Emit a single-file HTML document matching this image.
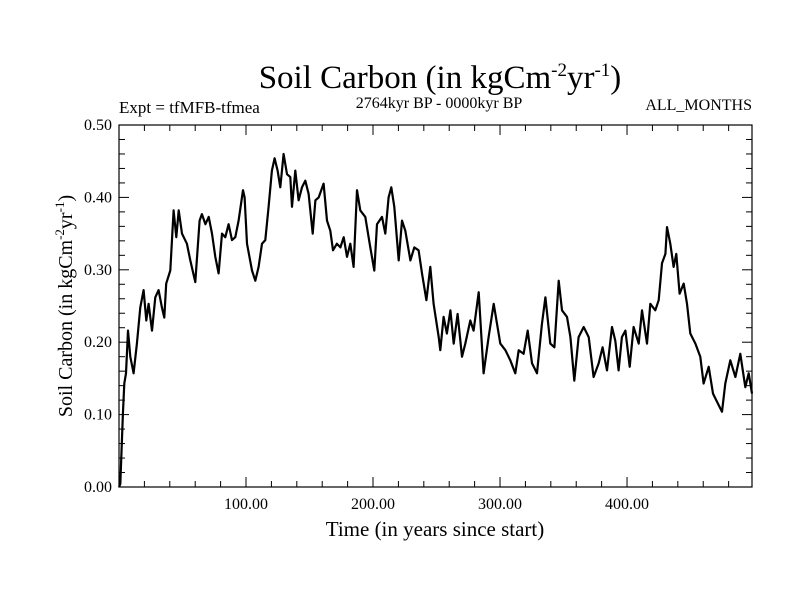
<!DOCTYPE html>
<html><head><meta charset="utf-8"><style>
html,body{margin:0;padding:0;background:#fff;}
svg{display:block;font-family:"Liberation Serif",serif;}
</style></head><body>
<svg id="chart" width="800" height="600" viewBox="0 0 800 600" xmlns="http://www.w3.org/2000/svg">
<rect width="800" height="600" fill="#fff"/>
<text x="440" y="88" font-size="33" text-anchor="middle">Soil Carbon (in kgCm<tspan dy="-12" font-size="19">-2</tspan><tspan dy="12">yr</tspan><tspan dy="-12" font-size="19">-1</tspan><tspan dy="12">)</tspan></text>
<text x="119" y="113" font-size="17">Expt = tfMFB-tfmea</text>
<text x="439" y="108" font-size="16" text-anchor="middle">2764kyr BP - 0000kyr BP</text>
<text x="752" y="110" font-size="16" text-anchor="end">ALL_MONTHS</text>
<g id="axes"></g>
<g id="marks"></g>
<text x="435" y="536" font-size="21" text-anchor="middle">Time (in years since start)</text>
<text transform="translate(72,306) rotate(-90)" font-size="20" text-anchor="middle">Soil Carbon (in kgCm<tspan dy="-8" font-size="13">-2</tspan><tspan dy="8">yr</tspan><tspan dy="-8" font-size="13">-1</tspan><tspan dy="8">)</tspan></text>
</svg>
<script>
const years = [0,1.0,3.1,4.2,5.5,7.1,8.9,11.5,14.1,16.8,19.4,21.5,23.3,26.0,28.6,31.2,33.8,35.7,37.2,40.4,43.0,45.1,47.0,49.6,53.5,56.1,60.1,63.5,65.3,68.0,70.6,73.2,75.8,78.4,81.1,83.7,86.3,89.0,91.6,94.2,97.6,98.9,100.8,104.7,107.3,109.9,112.6,115.2,117.8,120.4,122.5,124.9,127.0,129.6,132.3,134.9,136.2,138.8,141.4,144.1,146.7,149.3,152.5,154.6,157.2,161.1,163.8,166.4,168.5,171.6,174.3,176.9,179.5,182.1,184.7,187.4,190.0,193.9,197.9,201.0,203.1,207.1,209.7,212.3,214.4,216.8,220.2,222.8,225.4,229.4,232.5,235.9,238.6,242.0,245.1,247.7,251.7,253.0,255.6,258.2,260.9,263.5,266.6,270.1,272.7,276.6,279.2,283.2,287.1,291.0,295.0,300.2,304.2,308.1,312.0,314.7,318.6,321.8,325.2,329.1,333.0,335.7,339.6,342.8,346.2,348.8,352.7,355.4,358.5,361.9,365.9,369.8,373.7,377.7,380.8,384.2,388.2,390.8,393.4,396.0,398.7,402.1,405.2,409.2,411.8,415.7,418.3,422.3,424.9,427.5,430.2,431.5,434.1,436.7,438.8,441.4,444.6,447.2,449.8,453.8,457.7,460.3,464.3,467.7,471.6,474.8,477.4,481.3,485.3,489.2,493.1,495.8,498.4];
const carbon = [0,0.004,0.101,0.143,0.157,0.216,0.18,0.157,0.198,0.248,0.272,0.23,0.253,0.216,0.262,0.272,0.248,0.234,0.281,0.299,0.382,0.345,0.382,0.35,0.336,0.313,0.283,0.368,0.377,0.363,0.373,0.35,0.318,0.295,0.35,0.345,0.363,0.341,0.345,0.368,0.41,0.4,0.336,0.299,0.285,0.304,0.336,0.341,0.387,0.437,0.454,0.437,0.414,0.46,0.432,0.428,0.387,0.437,0.396,0.414,0.423,0.405,0.35,0.396,0.4,0.419,0.368,0.354,0.327,0.336,0.331,0.345,0.318,0.336,0.304,0.41,0.382,0.373,0.331,0.299,0.363,0.373,0.35,0.4,0.414,0.387,0.313,0.368,0.354,0.313,0.331,0.327,0.295,0.258,0.304,0.253,0.207,0.189,0.235,0.212,0.244,0.198,0.239,0.18,0.198,0.23,0.216,0.269,0.157,0.207,0.253,0.198,0.189,0.175,0.157,0.189,0.184,0.216,0.171,0.157,0.225,0.262,0.198,0.193,0.285,0.244,0.235,0.207,0.147,0.207,0.221,0.207,0.152,0.171,0.193,0.161,0.221,0.202,0.161,0.207,0.216,0.166,0.221,0.198,0.244,0.198,0.253,0.244,0.258,0.309,0.322,0.359,0.336,0.304,0.322,0.267,0.281,0.253,0.212,0.198,0.18,0.143,0.166,0.129,0.115,0.104,0.143,0.175,0.152,0.184,0.138,0.157,0.129];
const xTicks = [100,200,300,400];
const xTickLabels = ["100.00","200.00","300.00","400.00"];
const yTicks = [0,0.1,0.2,0.3,0.4,0.5];
const yTickLabels = ["0.00","0.10","0.20","0.30","0.40","0.50"];

const L=119, R=752, T=125, B=487, XMAX=498.4;
const NS="http://www.w3.org/2000/svg";
function sx(v){return L+(v/XMAX)*(R-L);}
function sy(v){return B-(v/0.5)*(B-T);}
function mk(tag,attrs,parent){const e=document.createElementNS(NS,tag);for(const k in attrs)e.setAttribute(k,attrs[k]);parent.appendChild(e);return e;}
const axes=document.getElementById('axes'), marks=document.getElementById('marks');
const frame=mk('rect',{x:L,y:T,width:R-L,height:B-T,fill:'none',stroke:'#000','stroke-width':1.2},axes);


for(let v=20;v<XMAX;v+=20){
  const major=(v%100===0);const len=major?10:6;
  const t1=mk('line',{x1:sx(v),x2:sx(v),y1:B,y2:B-len,stroke:'#000'},axes);
  
  
  const t2=mk('line',{x1:sx(v),x2:sx(v),y1:T,y2:T+len,stroke:'#000'},axes);
  
  
}
for(let i=1;i<25;i++){
  const v=i*0.02;const major=(i%5===0);const len=major?10:6;
  const t1=mk('line',{x1:L,x2:L+len,y1:sy(v),y2:sy(v),stroke:'#000'},axes);
  
  
  const t2=mk('line',{x1:R,x2:R-len,y1:sy(v),y2:sy(v),stroke:'#000'},axes);
  
  
}
xTicks.forEach((v,i)=>{
  const t=mk('text',{x:sx(v),y:B+22,'font-size':16,'text-anchor':'middle'},axes);
  t.textContent=xTickLabels[i];
  
  
});
yTicks.forEach((v,i)=>{
  const t=mk('text',{x:L-7,y:sy(v)+5,'font-size':16,'text-anchor':'end'},axes);
  t.textContent=yTickLabels[i];
  
  
});
const pts=years.map((y,i)=>sx(y).toFixed(1)+','+sy(carbon[i]).toFixed(1)).join(' ');
const line=mk('polyline',{points:pts,fill:'none',stroke:'#000','stroke-width':2.2,'stroke-linejoin':'round'},marks);


</script>
</body></html>
